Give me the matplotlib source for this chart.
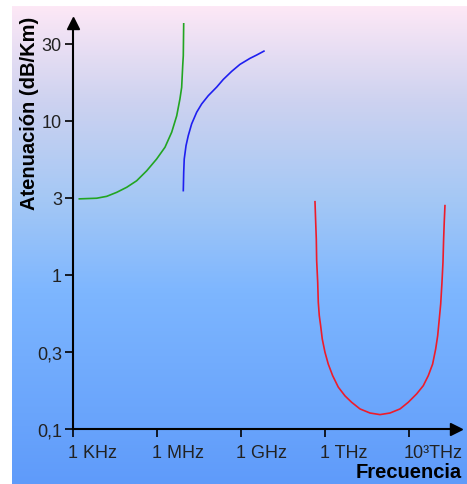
import numpy as np
import matplotlib.pyplot as plt
from matplotlib.colors import LinearSegmentedColormap
from matplotlib.transforms import ScaledTranslation

plt.rcParams['font.family'] = ['Liberation Sans', 'DejaVu Sans']

# frequency (Hz) / attenuation (dB/Km)
f_green = [1.68e3, 7.0e3, 1.6e4, 3.64e4, 8.3e4, 1.88e5, 4.3e5, 9.7e5, 1.93e6,
           3.35e6, 5.06e6, 6.6e6, 7.6e6, 8.3e6, 8.7e6, 9.0e6]
a_green = [3.12, 3.15, 3.24, 3.44, 3.71, 4.09, 4.75, 5.66, 6.75,
           8.45, 10.8, 13.9, 16.5, 22.9, 26.5, 43.7]

f_blue = [8.7e6, 9.0e6, 9.4e6, 1.09e7, 1.31e7, 1.73e7, 2.62e7, 3.95e7, 6.8e7,
          1.36e8, 2.33e8, 4.66e8, 9.2e8, 2.1e9, 3.64e9, 6.6e9]
a_blue = [3.53, 4.64, 5.66, 6.92, 8.03, 9.57, 11.4, 12.9, 14.6,
          16.6, 18.6, 21.0, 23.3, 25.5, 26.8, 28.4]

f_red = [4.4e11, 4.64e11, 4.9e11, 5.05e11, 5.5e11, 5.77e11, 6.26e11, 7.0e11,
         8.0e11, 1.0e12, 1.31e12, 1.88e12, 2.99e12, 5.2e12, 9.0e12, 1.78e13,
         4.05e13, 9.2e13, 2.1e14, 4.8e14, 9.4e14, 1.88e15, 3.24e15, 4.9e15,
         7.0e15, 9.0e15, 1.06e16, 1.18e16, 1.36e16, 1.51e16, 1.64e16,
         1.73e16, 1.82e16, 1.93e16]
a_red = [2.99, 2.25, 1.71, 1.24, 0.895, 0.665, 0.545, 0.469,
         0.384, 0.315, 0.264, 0.222, 0.187, 0.164, 0.149, 0.135,
         0.127, 0.124, 0.127, 0.135, 0.149, 0.169, 0.191, 0.222,
         0.264, 0.331, 0.403, 0.493, 0.649, 0.895, 1.21,
         1.71, 2.2, 2.82]

x_ticks = [1e3, 1e6, 1e9, 1e12, 1e15]
x_labels = ["1 KHz", "1 MHz", "1 GHz", "1 THz", "10³THz"]
y_ticks = [10**-1, 10**-0.5, 1, 10**0.5, 10, 10**1.5]
y_labels = ["0,1", "0,3", "1", "3", "10", "30"]

W, H = 467, 485
fig = plt.figure(figsize=(W / 100, H / 100), dpi=100)
fig.patch.set_facecolor("white")

# gradient background
bg = fig.add_axes([12 / W, 0, 1 - 12 / W, 1 - 7 / H], zorder=-10)
cmap = LinearSegmentedColormap.from_list("bg", [
    (0.0, (253/255, 232/255, 246/255)),
    (0.2, (205/255, 210/255, 240/255)),
    (0.4, (165/255, 200/255, 245/255)),
    (0.6, (125/255, 182/255, 255/255)),
    (1.0, (95/255, 155/255, 250/255)),
])
bg.imshow(np.linspace(0, 1, 256).reshape(-1, 1), aspect="auto", cmap=cmap,
          extent=[0, 1, 0, 1])
bg.axis("off")

ax = fig.add_axes([73 / W, 1 - 430 / H, (456 - 73) / W, (430 - 24) / H])
ax.patch.set_alpha(0)
ax.set_xscale("log")
ax.set_yscale("log")
ax.set_xlim(1e3, 10**16.68)
ax.set_ylim(0.1, 10**1.636)

ax.plot(f_green, a_green, color="#22a522", lw=1.2)
ax.plot(f_blue, a_blue, color="#1f1ff0", lw=1.2)
ax.plot(f_red, a_red, color="#ee1c2a", lw=1.2)

for s in ["top", "right"]:
    ax.spines[s].set_visible(False)
for s in ["left", "bottom"]:
    ax.spines[s].set_linewidth(1.5)
    ax.spines[s].set_color("black")

ax.set_xticks(x_ticks)
ax.set_xticklabels(x_labels)
ax.set_yticks(y_ticks)
ax.set_yticklabels(y_labels)
ax.minorticks_off()
ax.tick_params(axis="both", length=6, width=1.2, color="black",
               labelsize=13, labelcolor="#222222")
ax.tick_params(axis="x", pad=5)
ax.tick_params(axis="y", pad=2)
shift = ScaledTranslation(-5 / 100, 0, fig.dpi_scale_trans)
for lab in ax.get_xticklabels():
    lab.set_ha("left")
    lab.set_transform(lab.get_transform() + shift)

ax.plot(1, 0, ">k", ms=9, transform=ax.transAxes, clip_on=False)
ax.plot(0, 1, "^k", ms=9, transform=ax.transAxes, clip_on=False)

fig.text(30 / W, 1 - 113 / H, "Atenuación (dB/Km)", rotation=90,
         ha="center", va="center", fontsize=14.5, fontweight="bold")
fig.text(462 / W, 1 - 473 / H, "Frecuencia", ha="right", va="center",
         fontsize=14.5, fontweight="bold")

fig.savefig("out.png", dpi=100)
